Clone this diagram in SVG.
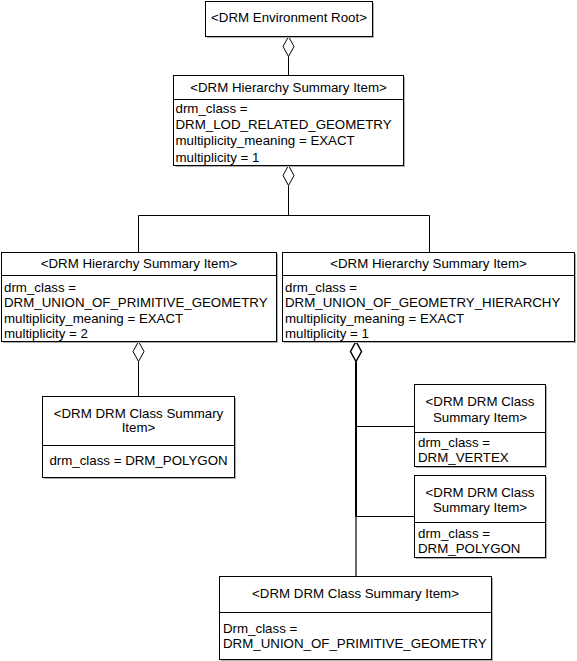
<svg xmlns="http://www.w3.org/2000/svg" width="577" height="661" viewBox="0 0 577 661">
<style>
.box{fill:#fff;stroke:#000;stroke-width:1}
.sh{fill:#b0b0b0}
.dv{stroke:#000;stroke-width:1}
text{font-family:"Liberation Sans",Arial,sans-serif;font-size:13.3px;fill:#000}
.c{text-anchor:middle}
.ln{stroke:#000;stroke-width:1;fill:none}
.dm{fill:#fff;stroke:#000;stroke-width:1}
</style>
<rect width="577" height="661" fill="#fff"/>
<g id="connectors">
<line class="ln" x1="288.5" y1="56.5" x2="288.5" y2="75.5"/>
<polygon class="dm" points="288.5,36.5 294,46.5 288.5,56.5 283,46.5"/>
<polyline class="ln" points="288.5,185.5 288.5,215.5"/>
<polyline class="ln" points="138.5,252.5 138.5,215.5 429.5,215.5 429.5,252.5"/>
<polygon class="dm" points="288.5,165.5 294,175.5 288.5,185.5 283,175.5"/>
<line class="ln" x1="138.5" y1="361.5" x2="138.5" y2="396.5"/>
<polygon class="dm" points="138.5,341.5 144,351.5 138.5,361.5 133,351.5"/>
<line class="ln" x1="356" y1="361.5" x2="356" y2="517" style="stroke-width:2"/>
<line class="ln" x1="356" y1="517" x2="356" y2="576.5" style="stroke-width:2;stroke:#6a6a6a"/>
<line class="ln" x1="356" y1="426.5" x2="414.5" y2="426.5"/>
<line class="ln" x1="356" y1="516.5" x2="414.5" y2="516.5"/>
<polygon class="dm" points="356,341.5 361.5,351.5 356,361.5 350.5,351.5" style="stroke-width:1.5"/>
</g>
<g id="root">
<rect class="sh" x="207" y="3" width="167" height="35"/>
<rect class="box" x="205.5" y="1.5" width="167" height="35"/>
<text class="c" x="289" y="21.5">&lt;DRM Environment Root&gt;</text>
</g>
<g id="lod">
<rect class="sh" x="175" y="77" width="230" height="90"/>
<rect class="box" x="173.5" y="75.5" width="230" height="90"/>
<line class="dv" x1="173.5" y1="99.5" x2="403.5" y2="99.5"/>
<text class="c" x="288.5" y="92">&lt;DRM Hierarchy Summary Item&gt;</text>
<text x="175.5" y="112.5">drm_class =</text>
<text x="175.5" y="129">DRM_LOD_RELATED_GEOMETRY</text>
<text x="175.5" y="145">multiplicity_meaning = EXACT</text>
<text x="175.5" y="161.5">multiplicity = 1</text>
</g>
<g id="union_prim">
<rect class="sh" x="3" y="254" width="275" height="89"/>
<rect class="box" x="1.5" y="252.5" width="275" height="89"/>
<line class="dv" x1="1.5" y1="275.5" x2="276.5" y2="275.5"/>
<text class="c" x="139" y="268">&lt;DRM Hierarchy Summary Item&gt;</text>
<text x="4" y="291.5">drm_class =</text>
<text x="4" y="307">DRM_UNION_OF_PRIMITIVE_GEOMETRY</text>
<text x="4" y="322.5">multiplicity_meaning = EXACT</text>
<text x="4" y="338">multiplicity = 2</text>
</g>
<g id="union_geom">
<rect class="sh" x="284" y="254" width="292" height="89"/>
<rect class="box" x="282.5" y="252.5" width="292" height="89"/>
<line class="dv" x1="282.5" y1="275.5" x2="574.5" y2="275.5"/>
<text class="c" x="428.5" y="268">&lt;DRM Hierarchy Summary Item&gt;</text>
<text x="285" y="291.5">drm_class =</text>
<text x="285" y="307">DRM_UNION_OF_GEOMETRY_HIERARCHY</text>
<text x="285" y="322.5">multiplicity_meaning = EXACT</text>
<text x="285" y="338">multiplicity = 1</text>
</g>
<g id="polygon_left">
<rect class="sh" x="44" y="398" width="192" height="81"/>
<rect class="box" x="42.5" y="396.5" width="192" height="81"/>
<line class="dv" x1="42.5" y1="445.5" x2="234.5" y2="445.5"/>
<text class="c" x="138.5" y="417.5">&lt;DRM DRM Class Summary</text>
<text class="c" x="138.5" y="432">Item&gt;</text>
<text class="c" x="138.5" y="465">drm_class = DRM_POLYGON</text>
</g>
<g id="vertex">
<rect class="sh" x="416" y="386" width="131" height="82"/>
<rect class="box" x="414.5" y="384.5" width="131" height="82"/>
<line class="dv" x1="414.5" y1="432.5" x2="545.5" y2="432.5"/>
<text class="c" x="480" y="406">&lt;DRM DRM Class</text>
<text class="c" x="480" y="421.5">Summary Item&gt;</text>
<text x="418" y="446.5">drm_class =</text>
<text x="418" y="461.5">DRM_VERTEX</text>
</g>
<g id="polygon_right">
<rect class="sh" x="416" y="477" width="131" height="82"/>
<rect class="box" x="414.5" y="475.5" width="131" height="82"/>
<line class="dv" x1="414.5" y1="522.5" x2="545.5" y2="522.5"/>
<text class="c" x="480" y="496.5">&lt;DRM DRM Class</text>
<text class="c" x="480" y="511.5">Summary Item&gt;</text>
<text x="418" y="537.5">drm_class =</text>
<text x="418" y="553">DRM_POLYGON</text>
</g>
<g id="union_prim_class">
<rect class="sh" x="221" y="578" width="272" height="83"/>
<rect class="box" x="219.5" y="576.5" width="272" height="83"/>
<line class="dv" x1="219.5" y1="612.5" x2="491.5" y2="612.5"/>
<text class="c" x="355.5" y="598">&lt;DRM DRM Class Summary Item&gt;</text>
<text x="223" y="633">Drm_class =</text>
<text x="223" y="648">DRM_UNION_OF_PRIMITIVE_GEOMETRY</text>
</g>
</svg>
